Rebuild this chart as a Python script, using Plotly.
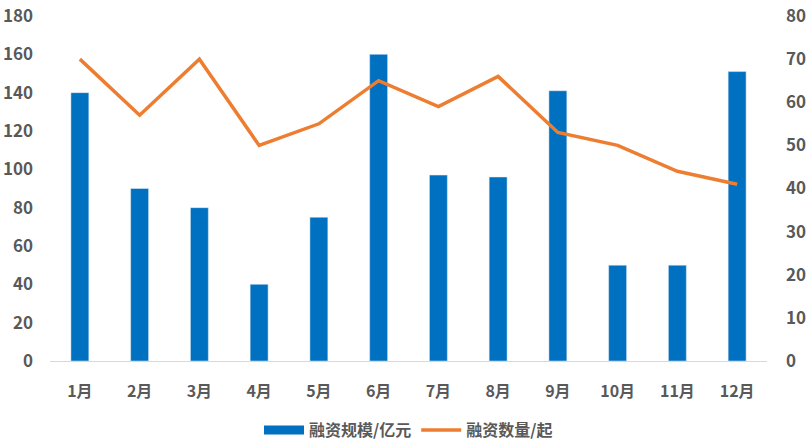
import plotly.graph_objects as go

months = ["1月", "2月", "3月", "4月", "5月", "6月", "7月", "8月", "9月", "10月", "11月", "12月"]
amount = [140, 90, 80, 40, 75, 160, 97, 96, 141, 50, 50, 151]
count = [70, 57, 70, 50, 55, 65, 59, 66, 53, 50, 44, 41]

FONT = "Microsoft YaHei, Noto Sans CJK SC, sans-serif"
TXT = "#595959"
BLUE = "#0070C0"
ORANGE = "#ED7D31"

fig = go.Figure()
fig.add_trace(go.Bar(x=months, y=amount, name="融资规模/亿元", marker_color=BLUE, yaxis="y",
                     showlegend=False))
# legend proxy giving a wide rectangular key like the reference
fig.add_trace(go.Scatter(x=[None], y=[None], name="融资规模/亿元", mode="lines",
                         line=dict(color=BLUE, width=9), yaxis="y"))
fig.add_trace(go.Scatter(x=months, y=count, name="融资数量/起", mode="lines",
                         line=dict(color=ORANGE, width=3.5), yaxis="y2"))

fig.update_layout(
    width=812, height=448,
    margin=dict(l=50, r=45, t=16, b=87, autoexpand=False),
    paper_bgcolor="white", plot_bgcolor="white",
    font=dict(family=FONT, color=TXT, size=15),
    bargap=0.7,
    showlegend=True,
    legend=dict(orientation="h", x=0.5, xanchor="center", y=-0.2, yanchor="middle",
                font=dict(size=16, color=TXT, weight=600), itemwidth=40, tracegroupgap=0),
    xaxis=dict(showgrid=False, showline=True, linecolor="#D9D9D9", linewidth=1,
               ticks="", tickfont=dict(size=16, color=TXT, weight=600), ticklabelstandoff=16,
               automargin=False),
    yaxis=dict(range=[0, 180], dtick=20, showgrid=False, zeroline=False, showline=False,
               tickfont=dict(size=17, color=TXT, weight=600), ticklabelstandoff=16, automargin=False),
    yaxis2=dict(range=[0, 80], dtick=10, overlaying="y", side="right", showgrid=False,
                zeroline=False, showline=False, tickfont=dict(size=17, color=TXT, weight=600),
                ticklabelstandoff=18, automargin=False),
)

fig.write_html("out.html", config={"displayModeBar": False},
               post_script="document.body.style.margin='0';")
